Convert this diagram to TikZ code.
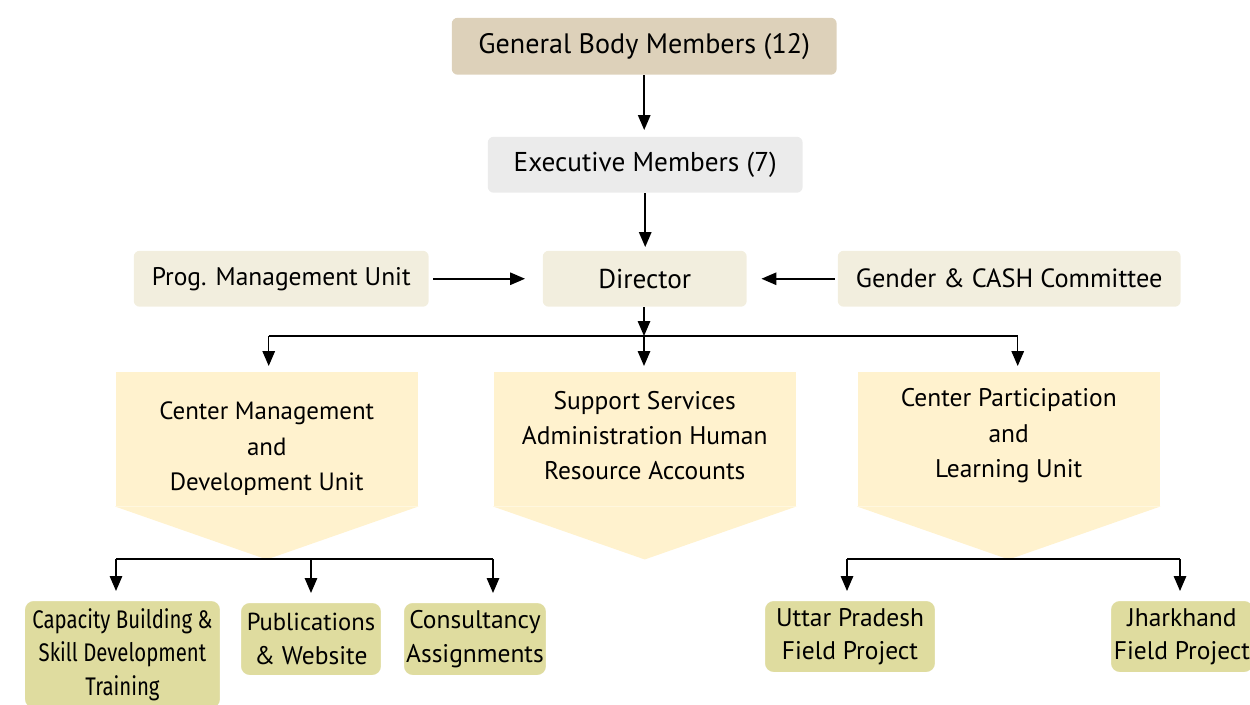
\documentclass[tikz,border=0pt]{standalone}
\usepackage{fontspec}
\setmainfont{PT Sans}
\newfontfamily\condfont[FakeStretch=0.8]{Fira Sans}
\usetikzlibrary{positioning,arrows.meta,shadows,calc}
\definecolor{bodytan}{RGB}{221,209,186}
\definecolor{execgrey}{RGB}{235,235,235}
\definecolor{unitcream}{RGB}{242,238,222}
\definecolor{deptyellow}{RGB}{255,242,206}
\definecolor{projolive}{RGB}{223,220,159}

\begin{document}
\begin{tikzpicture}[x=0.02cm, y=-0.02cm, >={Triangle[length=0.3cm, width=0.25cm]},
  line width=0.03cm,
  every node/.style={font=\fontsize{15.5}{19}\selectfont, align=center, inner sep=0}]
  \def\mybox#1#2#3#4#5#6{
    \node[fill=#1, rounded corners=0.12cm, anchor=north west,
    minimum width=#4, minimum height=#5]
    (#2) at #3 {#6};
  }
  \def\deptbox#1#2#3{
    \node[fill=deptyellow, anchor=north west,
    minimum width=6.04cm, minimum height=2.68cm] (#1) at #2 {};
    \fill[deptyellow] (#1.south west) -- (#1.south east)
    -- ($(#1.south)+(0,53)$) -- cycle;
    \coordinate (#1tip) at ($(#1.south)+(0,53)$);
  }
  \def\projbox#1#2#3#4#5{
    \node[fill=projolive, draw=white, line width=0.06cm, rounded corners=0.2cm,
    drop shadow={shadow xshift=0cm, shadow yshift=-0.02cm, opacity=0.2},
    anchor=north west, minimum width=#3, minimum height=#4,
    font=\fontsize{14.5}{19}\selectfont]
    (#1) at #2 {#5};
  }
  \useasboundingbox (0,0) rectangle (1250,704);

  \mybox{bodytan}{gbm}{(451,17)}{7.7cm}{1.14cm}{\fontsize{16}{19}\selectfont General Body Members (12)}
  \mybox{execgrey}{exec}{(487,136)}{6.3cm}{1.12cm}{Executive Members (7)}
  \mybox{unitcream}{director}{(542,250)}{4.08cm}{1.12cm}{Director}
  \mybox{unitcream}{pmu}{(133,250)}{5.9cm}{1.12cm}{\fontsize{14.5}{19}\selectfont Prog. Management Unit}
  \mybox{unitcream}{gcc}{(837,250)}{6.86cm}{1.12cm}{\fontsize{15}{19}\selectfont Gender \& CASH Committee}

  \deptbox{cmdu}{(115,371)}{}
  \deptbox{ssar}{(493,371)}{}
  \deptbox{cplu}{(857,371)}{}
  \node[font=\fontsize{14.2}{20}\selectfont] (cmdutext) at ([yshift=-0.2cm] cmdu.center)
  {Center Management\\and\\Development Unit};
  \node[font=\fontsize{14.5}{20}\selectfont] (ssartext) at ([yshift=0.06cm] ssar.center)
  {Support Services\\Administration Human\\Resource Accounts};
  \node[font=\fontsize{14.5}{20}\selectfont] (cplutext) at ([yshift=0.06cm] cplu.center)
  {Center Participation\\and\\Learning Unit};

  \projbox{capb}{(22,598)}{3.96cm}{2.2cm}
  {{\condfont Capacity Building \&}\\{\condfont Skill Development}\\{\condfont Training}}
  \projbox{pubw}{(238,600)}{2.86cm}{1.5cm}{\fontsize{14}{19}\selectfont Publications\\\& Website}
  \projbox{cons}{(401,600)}{2.9cm}{1.5cm}{Consultancy\\Assignments}
  \projbox{upfp}{(762,598)}{3.46cm}{1.48cm}{Uttar Pradesh\\Field Project}
  \projbox{jhfp}{(1108,598)}{2.9cm}{1.48cm}{Jharkhand\\Field Project}

  \coordinate (topbus) at (644,336);
  \coordinate (lbusw) at (116,559);
  \coordinate (lbuse) at (493,559);
  \coordinate (rbusw) at (847,559);
  \coordinate (rbuse) at (1180,559);

  \path (gbm.south) edge[->, shorten >=0.12cm] (gbm.south |- exec.north)
  (exec.south) edge[->, shorten >=0.06cm] (exec.south |- director.north)
  (pmu.east) edge[->, shorten <=0.08cm, shorten >=0.34cm] (director.west)
  (gcc.west) edge[->, shorten <=0.04cm, shorten >=0.28cm] (director.east)
  (topbus |- director.south) edge[->] (topbus)
  ([xshift=0.04cm] topbus -| cmdu.north) edge ([xshift=0.18cm] topbus -| cplu.north)
  ([xshift=0.04cm] topbus -| cmdu.north) edge[->, shorten >=0.1cm] ([xshift=0.04cm] cmdu.north)
  (topbus) edge[->, shorten >=0.1cm] (topbus |- ssar.north)
  ([xshift=0.18cm] topbus -| cplu.north) edge[->, shorten >=0.1cm] ([xshift=0.18cm] cplu.north)
  (lbusw) edge (lbuse)
  (lbusw) edge[->, shorten >=0.14cm] (lbusw |- capb.north)
  (lbusw -| pubw.north) edge[->, shorten >=0.14cm] (pubw.north)
  (lbuse) edge[->, shorten >=0.14cm] (lbuse |- cons.north)
  (rbusw) edge (rbuse)
  (rbusw) edge[->, shorten >=0.14cm] (rbusw |- upfp.north)
  (rbuse) edge[->, shorten >=0.14cm] (rbuse |- jhfp.north);
\end{tikzpicture}
\end{document}
